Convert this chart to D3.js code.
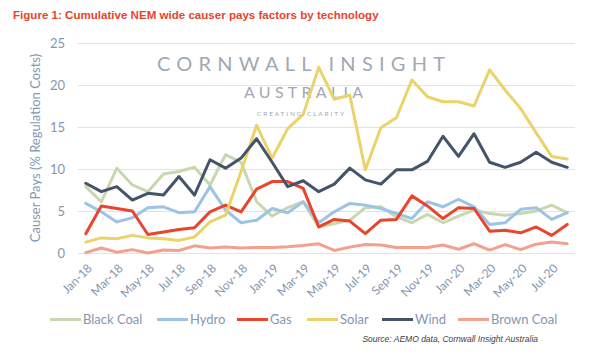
<!DOCTYPE html>
<html><head><meta charset="utf-8">
<script src="https://cdn.jsdelivr.net/npm/d3@7"></script>
<style>
html,body{margin:0;padding:0;background:#fff;}
svg{display:block;}
</style></head>
<body>
<svg id="c" width="600" height="354"></svg>
<script>
const months = ["Jan-18","Feb-18","Mar-18","Apr-18","May-18","Jun-18","Jul-18","Aug-18","Sep-18","Oct-18","Nov-18","Dec-18",
"Jan-19","Feb-19","Mar-19","Apr-19","May-19","Jun-19","Jul-19","Aug-19","Sep-19","Oct-19","Nov-19","Dec-19",
"Jan-20","Feb-20","Mar-20","Apr-20","May-20","Jun-20","Jul-20","Aug-20"];
const tickLabels = ["Jan-18","Mar-18","May-18","Jul-18","Sep-18","Nov-18","Jan-19","Mar-19","May-19","Jul-19","Sep-19","Nov-19","Jan-20","Mar-20","May-20","Jul-20"];
const yTicks = [0,5,10,15,20,25];
const seriesNames = ["Black Coal","Hydro","Gas","Solar","Wind","Brown Coal"];
const blackCoal = [7.9,6.1,10.1,8.1,7.3,9.4,9.7,10.2,8.1,11.7,10.8,6.1,4.4,5.4,6.1,3.1,3.5,3.9,5.4,5.5,4.3,3.6,4.6,3.6,4.4,5.1,4.7,4.5,4.7,5.0,5.7,4.8];
const hydro = [5.9,4.9,3.7,4.2,5.4,5.5,4.8,4.9,7.9,5.1,3.6,3.9,5.3,4.8,6.1,3.6,4.9,5.9,5.7,5.3,4.7,4.1,6.1,5.5,6.4,5.5,3.4,3.6,5.2,5.4,4.0,4.8];
const gas = [2.3,5.6,5.3,5.0,2.2,2.5,2.8,3.0,4.9,5.7,4.9,7.6,8.5,8.5,7.7,3.1,4.0,3.8,2.3,3.9,4.0,6.8,5.6,4.1,5.4,5.3,2.6,2.7,2.4,3.1,2.1,3.4];
const solar = [1.3,1.8,1.7,2.1,1.8,1.7,1.5,1.9,3.7,4.5,9.7,15.2,11.3,14.8,16.5,22.1,18.3,18.8,9.9,14.9,16.1,20.6,18.6,18.0,18.0,17.5,21.8,19.4,17.2,14.3,11.5,11.2];
const wind = [8.3,7.3,7.9,6.3,7.1,6.9,9.1,6.9,11.1,10.1,11.3,13.6,10.8,7.9,8.6,7.3,8.2,10.1,8.7,8.2,9.9,9.9,10.9,13.9,11.5,14.2,10.8,10.2,10.8,12.0,10.8,10.2];
const brownCoal = [0.05,0.6,0.1,0.4,0.0,0.35,0.3,0.85,0.6,0.7,0.6,0.65,0.65,0.75,0.9,1.1,0.3,0.7,1.0,0.95,0.65,0.65,0.65,0.95,0.45,1.1,0.35,1.0,0.4,1.05,1.3,1.1];
const colors = ["#c8d8ae","#9dc3e6","#e9452d","#ebd36c","#44546a","#f3a18f"];

const seriesValues = [blackCoal, hydro, gas, solar, wind, brownCoal];
const svg = d3.select("#c");
const axisColor = "#8497b0";
const L = 78, R = 575, T = 43, B = 253;

const x = d3.scaleBand().domain(months).range([L, R]);
const y = d3.scaleLinear().domain([0, 25]).range([B, T]);
const cx = m => x(m) + x.bandwidth() / 2;

// Title
const title = svg.append("text")
  .attr("x", 13).attr("y", 19)
  .attr("font-family", "Liberation Sans, Arial, sans-serif")
  .attr("font-weight", "bold").attr("font-size", 12)
  .attr("fill", "#e8432c")
  .text("Figure 1: Cumulative NEM wide causer pays factors by technology");
const tw = title.node().getComputedTextLength();
title.attr("font-size", 12 * 366 / tw);

// Gridlines
svg.append("g")
  .attr("transform", `translate(${L},0)`)
  .call(d3.axisLeft(y).tickValues(yTicks).tickSize(-(R - L)).tickFormat(""))
  .call(g => g.select(".domain").remove())
  .call(g => g.selectAll("line").attr("stroke", "#dfe3eb").attr("stroke-width", 1));

// Watermark
const wm = svg.append("g").attr("fill", "#a0a9b3").attr("font-family", "Lato, 'Open Sans', sans-serif");
wm.append("text").attr("x", 157).attr("y", 71).attr("font-size", 20)
  .attr("textLength", 288).attr("lengthAdjust", "spacing").text("CORNWALL INSIGHT");
wm.append("text").attr("x", 244).attr("y", 97.5).attr("font-size", 16)
  .attr("textLength", 119).attr("lengthAdjust", "spacing").text("AUSTRALIA");
wm.append("text").attr("x", 257).attr("y", 115.5).attr("font-size", 6.5)
  .attr("textLength", 87).attr("lengthAdjust", "spacing").text("CREATING CLARITY");

// Y axis labels
svg.append("g")
  .attr("transform", `translate(${L},0)`)
  .call(d3.axisLeft(y).tickValues(yTicks).tickSize(0).tickPadding(13))
  .call(g => g.select(".domain").remove())
  .call(g => g.selectAll("text").attr("fill", axisColor)
     .attr("font-family", "Lato, 'Open Sans', sans-serif").attr("font-size", 13));

// Y axis title
svg.append("text")
  .attr("transform", `translate(40,${(T + B) / 2}) rotate(-90)`)
  .attr("text-anchor", "middle")
  .attr("fill", axisColor)
  .attr("font-family", "Lato, 'Open Sans', sans-serif").attr("font-size", 13)
  .text("Causer Pays (% Regulation Costs)");

// X axis labels
svg.append("g")
  .attr("transform", `translate(0,${B})`)
  .call(d3.axisBottom(x).tickValues(tickLabels).tickSize(0))
  .call(g => g.select(".domain").remove())
  .call(g => g.selectAll("text")
     .attr("fill", axisColor)
     .attr("font-family", "Lato, 'Open Sans', sans-serif").attr("font-size", 12)
     .attr("text-anchor", "end")
     .attr("dy", "0.35em").attr("y", 0)
     .attr("transform", "translate(4,13) rotate(-45)"));

// Lines
const line = d3.line().x((d, i) => cx(months[i])).y(d => y(d));
seriesValues.forEach((vals, k) => {
  svg.append("path").datum(vals)
    .attr("d", line)
    .attr("fill", "none")
    .attr("stroke", colors[k])
    .attr("stroke-width", 3)
    .attr("stroke-linejoin", "round")
    .attr("stroke-linecap", "round");
});

// Legend
const legendX = [50, 157, 237, 307, 382, 458];
const lg = svg.append("g");
seriesNames.forEach((n, k) => {
  lg.append("line").attr("x1", legendX[k]).attr("x2", legendX[k] + 31)
    .attr("y1", 319.5).attr("y2", 319.5)
    .attr("stroke", colors[k]).attr("stroke-width", 3);
  lg.append("text").attr("x", legendX[k] + 33).attr("y", 319.5).attr("dy", "0.35em")
    .attr("fill", axisColor)
    .attr("font-family", "Lato, 'Open Sans', sans-serif").attr("font-size", 13)
    .text(n);
});

// Source
svg.append("text")
  .attr("x", 538).attr("y", 342)
  .attr("text-anchor", "end")
  .attr("font-family", "Liberation Sans, Arial, sans-serif")
  .attr("font-style", "italic").attr("font-size", 8.5)
  .attr("fill", "#404040")
  .text("Source: AEMO data, Cornwall Insight Australia");
</script>
</body></html>
